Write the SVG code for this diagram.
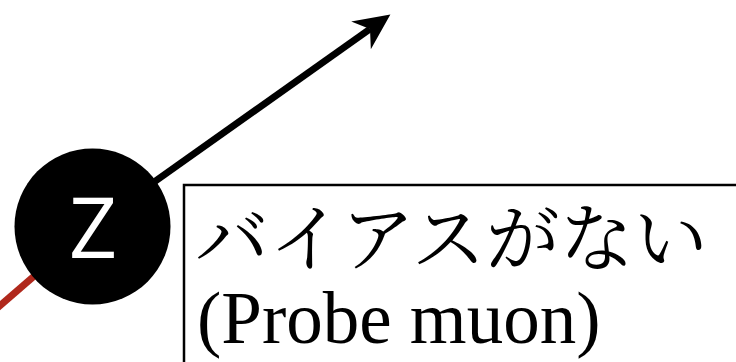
<svg xmlns="http://www.w3.org/2000/svg" width="736" height="362" viewBox="0 0 736 362">
<style>
.jp{font-family:"Liberation Serif","Noto Serif CJK JP","Noto Sans CJK JP",serif;font-size:74px;fill:#000}
.en{font-family:"Liberation Serif",serif;font-size:73px;fill:#000}
.zl{font-family:"Open Sans","Noto Sans",sans-serif;font-size:84px;fill:#fff}
</style>
<defs>
<marker id="ah" markerUnits="userSpaceOnUse" viewBox="-38 -19 40 38" refX="-25" refY="0" markerWidth="40" markerHeight="38" orient="auto">
<path d="M0,0 L-36,-17 L-25,0 L-36,17 Z" fill="#000"/>
</marker>
</defs>
<g id="connectors">
<line x1="92" y1="226" x2="-20" y2="323" stroke="#b0281c" stroke-width="7"/>
<line x1="92" y1="226" x2="370" y2="29" stroke="#000" stroke-width="7" marker-end="url(#ah)"/>
</g>
<g id="node-z">
<circle cx="92.5" cy="226.5" r="78" fill="#000"/>
<text class="zl" x="93" y="258" text-anchor="middle">Z</text>
</g>
<g id="node-label">
<rect x="184" y="185" width="600" height="220" fill="#fff" stroke="#000" stroke-width="2.5"/>
<text class="jp" x="195" y="265">バイアスがない</text>
<text class="en" x="197" y="343">(Probe muon)</text>
</g>
</svg>
